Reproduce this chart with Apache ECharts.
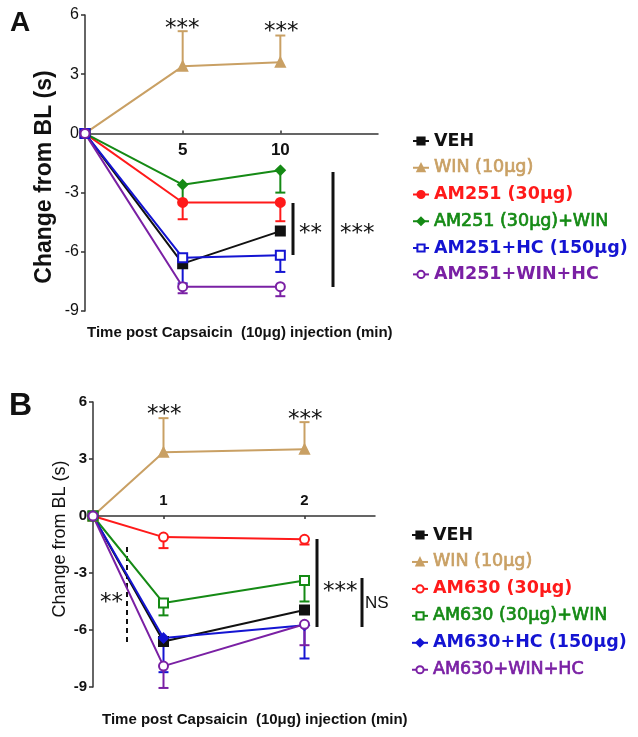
<!DOCTYPE html>
<html><head><meta charset="utf-8">
<script src="https://cdn.jsdelivr.net/npm/echarts@6/dist/echarts.min.js"></script>
<style>html,body{margin:0;padding:0;background:#fff}#c{width:638px;height:737px}</style>
</head><body><div id="c"></div>
<script>
// ---------- Panel A data ----------
const timesA = [0, 5, 10];
const xTickValsA = [5, 10];
const xTickLabelsA = ['5', '10'];
const namesA = ['VEH', 'WIN (10μg)', 'AM251 (30μg)', 'AM251 (30μg)+WIN', 'AM251+HC (150μg)', 'AM251+WIN+HC'];
const vehA = [0, -6.6, -4.95];
const winA = [0, 3.4, 3.6];
const am251A = [0, -3.5, -3.5];
const am251WinA = [0, -2.6, -1.87];
const am251HcA = [0, -6.3, -6.17];
const am251WinHcA = [0, -7.77, -7.77];
const errVehA = [0, 0, 0];
const errWinA = [0, 1.78, 1.36];
const errAm251A = [0, 0.85, 0.95];
const errAm251WinA = [0, 0.9, 1.13];
const errAm251HcA = [0, 1.3, 0.85];
const errAm251WinHcA = [0, 0.33, 0.48];

// ---------- Panel B data ----------
const timesB = [0, 5, 15];
const xTickValsB = [5, 15];
const xTickLabelsB = ['1', '2'];
const namesB = ['VEH', 'WIN (10μg)', 'AM630 (30μg)', 'AM630 (30μg)+WIN', 'AM630+HC (150μg)', 'AM630+WIN+HC'];
const vehB = [0, -6.6, -4.95];
const winB = [0, 3.35, 3.51];
const am630B = [0, -1.11, -1.23];
const am630WinB = [0, -4.58, -3.4];
const am630HcB = [0, -6.42, -5.75];
const am630WinHcB = [0, -7.9, -5.7];
const errVehB = [0, 0, 0];
const errWinB = [0, 1.8, 1.43];
const errAm630B = [0, 0.58, 0.27];
const errAm630WinB = [0, 0.65, 1.1];
const errAm630HcB = [0, 1.8, 1.75];
const errAm630WinHcB = [0, 1.15, 1.1];

const yMin = -9, yMax = 6, yStep = 3;

const C = {black:'#111111', tan:'#C9A064', red:'#FF1A1A', green:'#158A15', blue:'#1414D2', purple:'#7A20A4'};

const chart = echarts.init(document.getElementById('c'), null, {renderer:'canvas'});

function lineS(idx, name, xs, ys, color, symbol) {
  return {
    type:'line', name:name, xAxisIndex:idx, yAxisIndex:idx,
    data: xs.map((x,i)=>[x, ys[i]]),
    symbol: symbol, symbolSize: 9, showSymbol:true,
    itemStyle:{color:color, borderColor:color, borderWidth:2},
    lineStyle:{color:color, width:2},
    emphasis:{disabled:true}, z:3, animation:false
  };
}
function errS(idx, xs, ys, errs, dir, color) {
  return {
    type:'custom', xAxisIndex:idx, yAxisIndex:idx, silent:true, z:2, animation:false,
    data: xs.map((x,i)=>[x, ys[i], errs[i]]),
    encode:{x:0, y:1},
    renderItem: function(params, api) {
      const x = api.value(0), y = api.value(1), e = api.value(2);
      if (!e) return null;
      const p0 = api.coord([x, y]);
      const p1 = api.coord([x, y + dir*e]);
      return {type:'group', children:[
        {type:'line', shape:{x1:p0[0], y1:p0[1], x2:p1[0], y2:p1[1]}, style:{stroke:color, lineWidth:2}},
        {type:'line', shape:{x1:p1[0]-5, y1:p1[1], x2:p1[0]+5, y2:p1[1]}, style:{stroke:color, lineWidth:2}}
      ]};
    }
  };
}

const colorsA = [C.black, C.tan, C.red, C.green, C.blue, C.purple];
const symbolsA = ['rect', 'triangle', 'circle', 'diamond', 'emptyRect', 'emptyCircle'];
const weightsA = ['bold', 'normal', 'bold', 'normal', 'bold', 'bold'];
const valsA = [vehA, winA, am251A, am251WinA, am251HcA, am251WinHcA];
const errsA = [errVehA, errWinA, errAm251A, errAm251WinA, errAm251HcA, errAm251WinHcA];
const dirsA = [-1, 1, -1, -1, -1, -1];

const colorsB = [C.black, C.tan, C.red, C.green, C.blue, C.purple];
const symbolsB = ['rect', 'triangle', 'emptyCircle', 'emptyRect', 'diamond', 'emptyCircle'];
const weightsB = ['bold', 'normal', 'bold', 'normal', 'bold', 'normal'];
const valsB = [vehB, winB, am630B, am630WinB, am630HcB, am630WinHcB];
const errsB = [errVehB, errWinB, errAm630B, errAm630WinB, errAm630HcB, errAm630WinHcB];
const dirsB = [-1, 1, -1, -1, -1, -1];

const series = [];
for (let i=0;i<6;i++) series.push(errS(0, timesA, valsA[i], errsA[i], dirsA[i], colorsA[i]));
for (let i=0;i<6;i++) series.push(lineS(0, namesA[i], timesA, valsA[i], colorsA[i], symbolsA[i]));
for (let i=0;i<6;i++) series.push(errS(1, timesB, valsB[i], errsB[i], dirsB[i], colorsB[i]));
for (let i=0;i<6;i++) series.push(lineS(1, namesB[i], timesB, valsB[i], colorsB[i], symbolsB[i]));

const legendFont = {fontFamily:'DejaVu Sans', fontWeight:'bold', fontSize:17.5, lineHeight:18};
function legendData(names, colors, weights) {
  return names.map((n,i)=>{
    const ts = Object.assign({}, legendFont, {color:colors[i], fontWeight:weights[i]});
    if (weights[i] === 'normal') { ts.textBorderColor = colors[i]; ts.textBorderWidth = 0.7; }
    return {name:n, textStyle:ts};
  });
}

const gridA = {left:85, top:15, width:293, height:296};
const gridB = {left:93, top:402, width:282, height:285};

function xAxisCfg(idx, grid, maxV, tickVals, tickLabels, inside, fs) {
  // place the x axis (line, ticks, labels) at y = 0
  const off = -grid.height * (0 - yMin) / (yMax - yMin);
  return {
    type:'value', gridIndex:idx, min:0, max:maxV, position:'bottom', offset:off,
    axisLine:{show:true, onZero:false, lineStyle:{color:'#333', width:1.5}},
    axisTick:{show:true, customValues:tickVals, length:3, inside:!inside, lineStyle:{color:'#333', width:1.5}},
    axisLabel:{show:true, customValues:tickVals, inside:inside, margin:8,
      formatter:function(v){const k=tickVals.indexOf(v); return k>=0?tickLabels[k]:'';},
      color:'#111', fontFamily:'Liberation Sans', fontWeight:'bold', fontSize:fs},
    splitLine:{show:false}
  };
}
function yAxisCfg(idx, fs, fw) {
  return {
    type:'value', gridIndex:idx, min:yMin, max:yMax, interval:yStep,
    axisLine:{show:true, onZero:false, lineStyle:{color:'#333', width:1.5}},
    axisTick:{show:true, length:4, lineStyle:{color:'#333', width:1.5}},
    axisLabel:{color:'#111', fontFamily:'Liberation Sans', fontSize:fs, fontWeight:fw, margin:6},
    splitLine:{show:false}
  };
}

function txt(x, y, s, font, color, align, vAlign, rot) {
  return {type:'text', x:x, y:y, rotation:rot||0, silent:true,
    style:{text:s, font:font, fill:color||'#111', align:align||'left', verticalAlign:vAlign||'middle'}};
}
function vline(x, y1, y2, w, dash) {
  return {type:'line', silent:true, shape:{x1:x, y1:y1, x2:x, y2:y2},
    style:{stroke:'#111', lineWidth:w, lineDash:dash||null}};
}
const starFont = '23px "DejaVu Sans"';

const option = {
  backgroundColor:'#fff',
  animation:false,
  grid:[
    Object.assign({containLabel:false}, gridA),
    Object.assign({containLabel:false}, gridB)
  ],
  xAxis:[
    xAxisCfg(0, gridA, 15, xTickValsA, xTickLabelsA, false, 17),
    xAxisCfg(1, gridB, 20, xTickValsB, xTickLabelsB, true, 15)
  ],
  yAxis:[
    yAxisCfg(0, 16, 'normal'),
    yAxisCfg(1, 15, 'bold')
  ],
  legend:[
    {orient:'vertical', left:407, top:127, itemWidth:16, itemHeight:9, itemGap:8.4,
      data:legendData(namesA, colorsA, weightsA), selectedMode:false, textStyle:legendFont},
    {orient:'vertical', left:406, top:521, itemWidth:16, itemHeight:9, itemGap:8.6,
      data:legendData(namesB, colorsB, weightsB), selectedMode:false, textStyle:legendFont}
  ],
  series: series,
  graphic:[
    txt(10, 23, 'A', 'bold 28px "Liberation Sans"', '#111'),
    txt(9, 406, 'B', 'bold 32px "Liberation Sans"', '#111'),
    txt(45, 177, 'Change from BL (s)', 'bold 23px "Liberation Sans"', '#111', 'center', 'middle', Math.PI/2),
    txt(60, 539, 'Change from BL (s)', '18px "Liberation Sans"', '#111', 'center', 'middle', Math.PI/2),
    txt(87, 333, 'Time post Capsaicin  (10μg) injection (min)', 'bold 15px "Liberation Sans"', '#111'),
    txt(102, 720, 'Time post Capsaicin  (10μg) injection (min)', 'bold 15px "Liberation Sans"', '#111'),
    // Panel A annotations
    txt(165, 29, '***', starFont, '#111'),
    txt(264, 32, '***', starFont, '#111'),
    vline(293, 203, 255, 3),
    txt(299, 234, '**', starFont, '#111'),
    vline(333, 172, 287, 3),
    txt(340, 234, '***', starFont, '#111'),
    // Panel B annotations
    txt(147, 415, '***', starFont, '#111'),
    txt(288, 420, '***', starFont, '#111'),
    vline(127, 547, 643, 2, [5,4]),
    txt(100, 603, '**', starFont, '#111'),
    vline(317, 539, 627, 3),
    txt(323, 592, '***', starFont, '#111'),
    vline(362, 578, 627, 3),
    txt(365, 603, 'NS', '17px "Liberation Sans"', '#111')
  ]
};
chart.setOption(option);
</script>
</body></html>
